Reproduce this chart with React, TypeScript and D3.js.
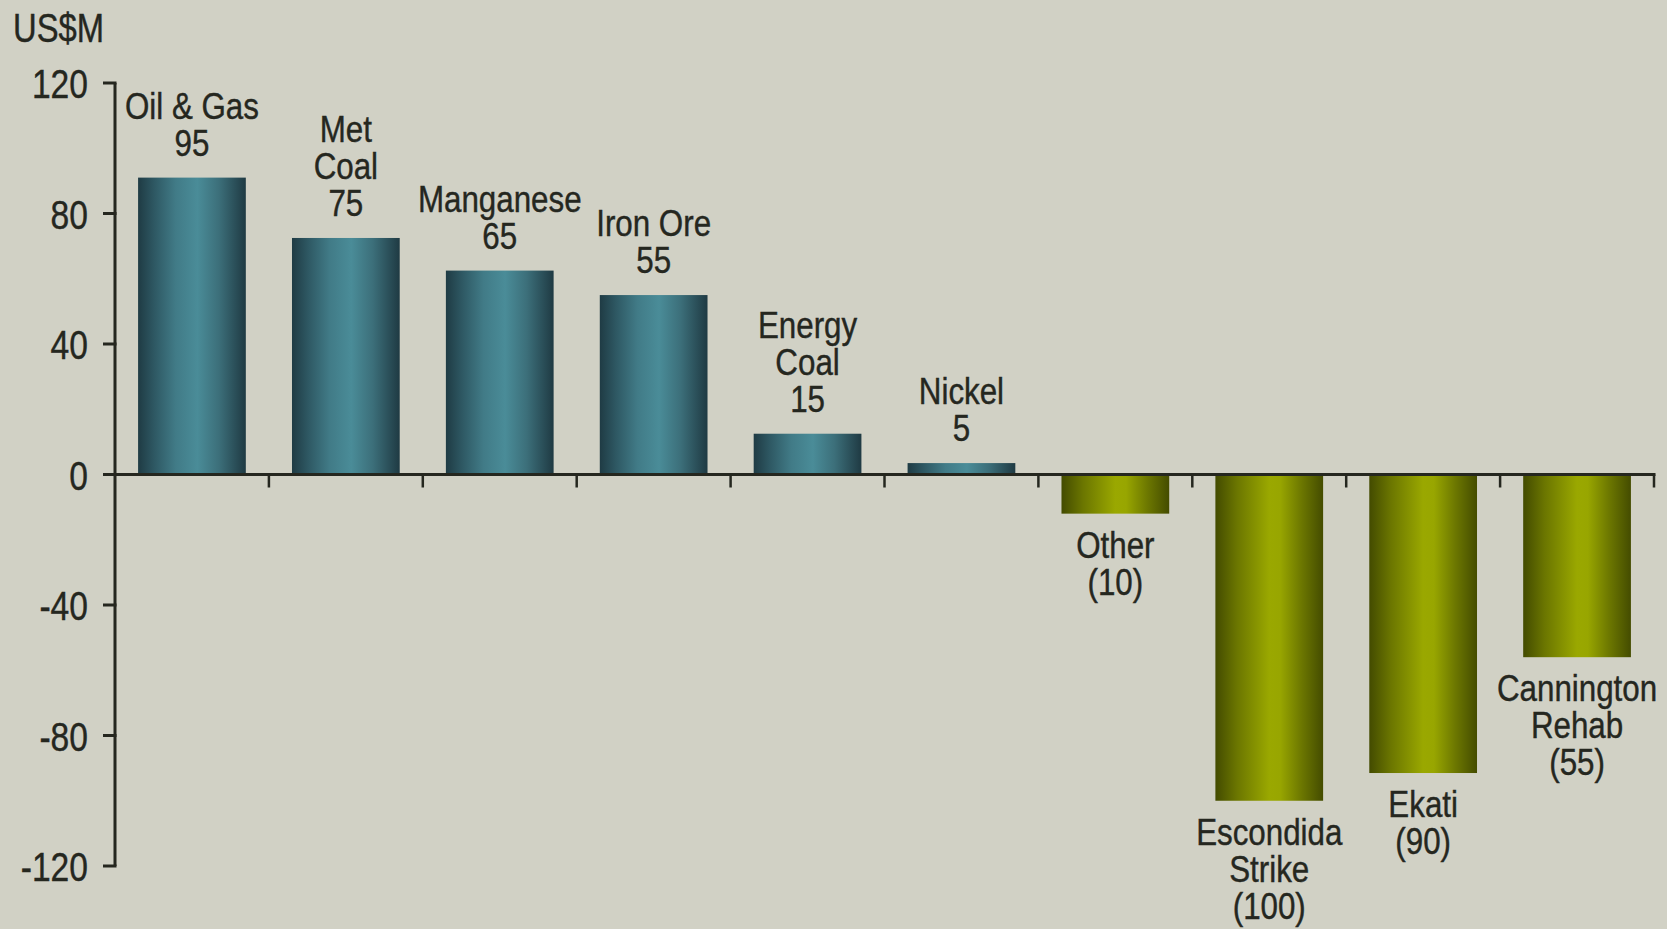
import * as d3 from "d3";

// bar values (drawn height), US$M
const categories = [
  "Oil & Gas",
  "Met Coal",
  "Manganese",
  "Iron Ore",
  "Energy Coal",
  "Nickel",
  "Other",
  "Escondida Strike",
  "Ekati",
  "Cannington Rehab",
];
const values = [91, 72.5, 62.5, 55, 12.5, 3.5, -12, -100, -91.5, -56];

// label lines printed next to each bar
const labelLines = [
  ["Oil & Gas", "95"],
  ["Met", "Coal", "75"],
  ["Manganese", "65"],
  ["Iron Ore", "55"],
  ["Energy", "Coal", "15"],
  ["Nickel", "5"],
  ["Other", "(10)"],
  ["Escondida", "Strike", "(100)"],
  ["Ekati", "(90)"],
  ["Cannington", "Rehab", "(55)"],
];

const yTicks = [-120, -80, -40, 0, 40, 80, 120];

const W = 1667;
const H = 929;
const FONT = "'Liberation Sans', Arial, sans-serif";
const INK = "#25271f";

// condensed text: scale horizontally around the anchor point
const Narrow = ({ x, y, size, anchor = "start", squeeze = 0.82, children }: any) => (
  <text
    transform={`translate(${x},${y}) scale(${squeeze},1)`}
    textAnchor={anchor}
    fontSize={size}
    fill={INK}
    stroke={INK}
    strokeWidth={0.4}
  >
    {children}
  </text>
);

export default function App() {
  const x = d3.scaleBand().domain(categories).range([115, 1654]).padding(0);
  const y = d3.scaleLinear().domain([-120, 120]).range([866, 83]);
  const barW = x.bandwidth() * 0.7;
  const lineH = 37;

  return (
    <svg
      width={W}
      height={H}
      style={{ position: "absolute", left: 0, top: 0, background: "#d1d1c5" }}
      fontFamily={FONT}
    >
      <defs>
        <linearGradient id="teal" x1="0" x2="1" y1="0" y2="0">
          <stop offset="0%" stopColor="#1f3b44" />
          <stop offset="15%" stopColor="#2e5863" />
          <stop offset="35%" stopColor="#417b87" />
          <stop offset="55%" stopColor="#4a8c98" />
          <stop offset="75%" stopColor="#3c6f7a" />
          <stop offset="100%" stopColor="#1f3a43" />
        </linearGradient>
        <linearGradient id="olive" x1="0" x2="1" y1="0" y2="0">
          <stop offset="0%" stopColor="#434b00" />
          <stop offset="20%" stopColor="#6b7600" />
          <stop offset="50%" stopColor="#9aa800" />
          <stop offset="60%" stopColor="#98a600" />
          <stop offset="80%" stopColor="#6c7700" />
          <stop offset="100%" stopColor="#444c00" />
        </linearGradient>
      </defs>

      <rect width={W} height={H} fill="#d1d1c5" />

      <Narrow x={13} y={42} size={40}>
        US$M
      </Narrow>

      {/* bars */}
      {categories.map((c, i) => {
        const v = values[i];
        const bx = x(c)! + (x.bandwidth() - barW) / 2;
        return (
          <rect
            key={c}
            x={bx}
            y={y(Math.max(0, v))}
            width={barW}
            height={Math.abs(y(v) - y(0))}
            fill={v >= 0 ? "url(#teal)" : "url(#olive)"}
          />
        );
      })}

      {/* y axis */}
      <line x1={115} x2={115} y1={y(120)} y2={y(-120)} stroke={INK} strokeWidth={3} />
      {yTicks.map((t) => (
        <g key={t}>
          <line x1={103} x2={116.5} y1={y(t)} y2={y(t)} stroke={INK} strokeWidth={3} />
          <Narrow x={88} y={y(t) + 15} size={41} anchor="end">
            {t}
          </Narrow>
        </g>
      ))}

      {/* x axis */}
      <line x1={103} x2={1655.5} y1={y(0)} y2={y(0)} stroke={INK} strokeWidth={3} />
      {categories.map((c) => (
        <line
          key={c}
          x1={x(c)! + x.bandwidth()}
          x2={x(c)! + x.bandwidth()}
          y1={y(0)}
          y2={y(0) + 13}
          stroke={INK}
          strokeWidth={2.5}
        />
      ))}

      {/* labels */}
      {categories.map((c, i) => {
        const v = values[i];
        const lines = labelLines[i];
        const cx = x(c)! + x.bandwidth() / 2;
        const first =
          v >= 0 ? y(v) - 22 - (lines.length - 1) * lineH : y(v) + 44;
        return (
          <g key={c}>
            {lines.map((l, k) => (
              <Narrow
                key={k}
                x={cx}
                y={first + k * lineH}
                size={36}
                anchor="middle"
                squeeze={0.87}
              >
                {l}
              </Narrow>
            ))}
          </g>
        );
      })}
    </svg>
  );
}
